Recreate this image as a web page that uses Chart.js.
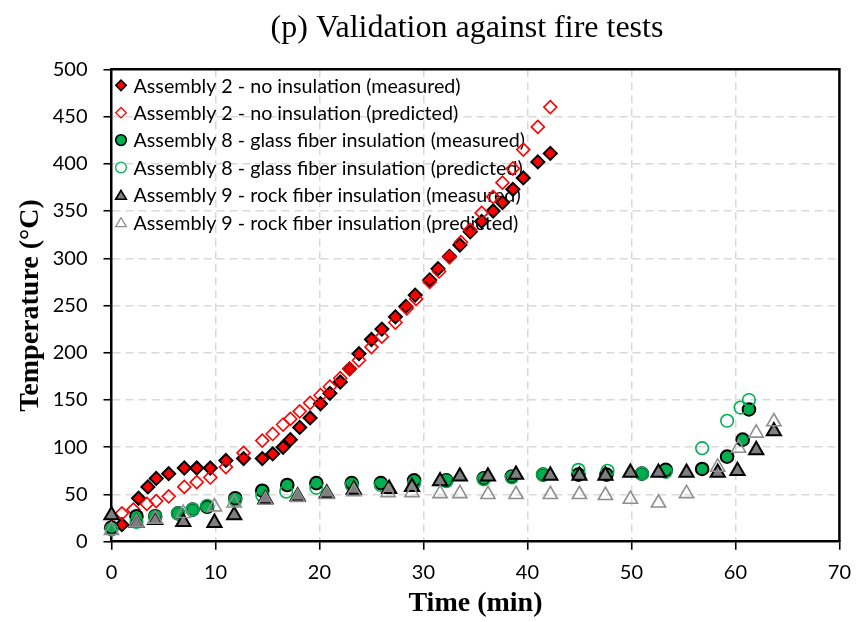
<!DOCTYPE html>
<html>
<head>
<meta charset="utf-8">
<script src="https://cdn.jsdelivr.net/npm/chart.js@4/dist/chart.umd.min.js"></script>
<style>
  html, body { margin: 0; padding: 0; background: #ffffff; }
  #wrap { width: 862px; height: 622px; }
</style>
</head>
<body>
<div id="wrap"><canvas id="chart" width="862" height="622"></canvas></div>
<script>
// ---- Data: time (min) and temperature (°C) for each assembly ----
const chartTitle = '(p) Validation against fire tests';
const xAxisTitle = 'Time (min)';
const yAxisTitle = 'Temperature (°C)';
const xTicks = [0, 10, 20, 30, 40, 50, 60, 70];
const yTicks = [0, 50, 100, 150, 200, 250, 300, 350, 400, 450, 500];

const seriesLabels = [
  'Assembly 2 - no insulation (measured)',
  'Assembly 2 - no insulation (predicted)',
  'Assembly 8 - glass fiber insulation (measured)',
  'Assembly 8 - glass fiber insulation (predicted)',
  'Assembly 9 - rock fiber insulation (measured)',
  'Assembly 9 - rock fiber insulation (predicted)'
];

const a2MeasuredTime = [0, 1.0, 2.6, 3.5, 4.3, 5.5, 7.0, 8.2, 9.5, 11.0, 12.7, 14.5, 15.5, 16.5, 17.2, 18.1, 19.1, 20.1, 21.0, 22.0, 22.9, 23.8, 25.0, 26.0, 27.3, 28.3, 29.2, 30.6, 31.4, 32.5, 33.5, 34.5, 35.6, 36.7, 37.6, 38.6, 39.6, 41.0, 42.2];
const a2MeasuredTemp = [14, 18, 46, 58, 67, 72, 78, 78, 78, 86, 88, 88, 93, 100, 108, 121, 131, 146, 157, 169, 183, 199, 214, 225, 238, 249, 261, 277, 289, 302, 314, 328, 339, 350, 359, 373, 385, 402, 411];

const a2PredictedTime = [0, 1.0, 2.1, 3.4, 4.3, 5.5, 7.0, 8.2, 9.5, 11.0, 12.7, 14.5, 15.5, 16.5, 17.2, 18.1, 19.1, 20.1, 21.0, 22.0, 22.9, 23.8, 25.0, 26.0, 27.3, 28.4, 29.3, 30.6, 31.5, 32.5, 33.6, 34.5, 35.6, 36.7, 37.6, 38.6, 39.6, 41.0, 42.2];
const a2PredictedTemp = [16, 30, 34, 40, 43, 48, 58, 63, 68, 79, 94, 107, 114, 124, 130, 138, 147, 155, 164, 173, 183, 192, 206, 217, 232, 247, 257, 275, 286, 301, 317, 330, 348, 365, 380, 395, 415, 439, 460];

const a8MeasuredTime = [0, 2.4, 4.2, 6.4, 7.8, 9.2, 11.9, 14.5, 16.9, 19.7, 23.1, 25.9, 29.1, 32.2, 35.8, 38.5, 41.5, 44.9, 47.6, 51.0, 53.3, 56.8, 59.2, 60.7, 61.3];
const a8MeasuredTemp = [15, 27, 27, 30, 34, 37, 46, 54, 60, 62, 62, 62, 65, 65, 67, 69, 71, 71, 71, 72, 76, 77, 90, 108, 140];

const a8PredictedTime = [0, 2.4, 4.2, 6.4, 7.8, 9.2, 11.9, 14.5, 16.8, 19.7, 23.1, 25.9, 29.1, 32.2, 35.8, 38.5, 41.5, 44.9, 47.7, 51.0, 53.3, 56.8, 59.2, 60.5, 61.3];
const a8PredictedTemp = [13, 21, 26, 30, 34, 38, 44, 49, 53, 57, 60, 60, 62, 64, 66, 68, 71, 76, 75, 72, 74, 99, 128, 142, 150];

const a9MeasuredTime = [0, 2.4, 4.2, 6.9, 9.9, 11.8, 14.8, 17.9, 20.7, 23.3, 26.7, 28.9, 31.6, 33.5, 36.2, 38.9, 42.2, 45.0, 47.5, 49.9, 52.6, 55.3, 58.3, 60.2, 62.0, 63.7];
const a9MeasuredTemp = [28, 20, 23, 21, 20, 28, 45, 48, 51, 55, 56, 58, 64, 69, 69, 71, 70, 70, 70, 73, 73, 73, 73, 75, 97, 117];

const a9PredictedTime = [0, 2.4, 4.2, 6.9, 9.9, 11.8, 14.8, 17.9, 20.7, 23.3, 26.6, 28.9, 31.6, 33.5, 36.2, 38.9, 42.2, 45.0, 47.5, 49.9, 52.6, 55.3, 58.3, 60.3, 62.0, 63.7];
const a9PredictedTemp = [12, 20, 24, 30, 37, 41, 44, 47, 50, 53, 52, 52, 51, 51, 50, 50, 50, 50, 49, 45, 41, 51, 79, 99, 115, 127];

// ---- Styling ----
const RED = '#ff0000';
const GREEN = '#00b050';
const DARK_GREY = '#7f7f7f';
const LIGHT_GREY = '#8f8f8f';
const NONE = 'rgba(0,0,0,0)';
const tickFont = { family: 'Lato', size: 20 };
const legendFont = '19.7px Lato';

function points(xs, ys) {
  return xs.map((x, i) => ({ x: x, y: ys[i] }));
}

const seriesStyles = [
  { pointStyle: 'rectRot', radius: 6.5, fill: RED, stroke: '#000000', width: 2 },
  { pointStyle: 'rectRot', radius: 6.5, fill: NONE, stroke: RED, width: 1.6 },
  { pointStyle: 'circle', radius: 6.3, fill: GREEN, stroke: '#000000', width: 2 },
  { pointStyle: 'circle', radius: 6.3, fill: NONE, stroke: GREEN, width: 1.6 },
  { pointStyle: 'triangle', radius: 8.2, fill: DARK_GREY, stroke: '#000000', width: 2 },
  { pointStyle: 'triangle', radius: 8.2, fill: NONE, stroke: LIGHT_GREY, width: 1.6 }
];

const seriesData = [
  points(a2MeasuredTime, a2MeasuredTemp),
  points(a2PredictedTime, a2PredictedTemp),
  points(a8MeasuredTime, a8MeasuredTemp),
  points(a8PredictedTime, a8PredictedTemp),
  points(a9MeasuredTime, a9MeasuredTemp),
  points(a9PredictedTime, a9PredictedTemp)
];

const datasets = seriesLabels.map((label, i) => ({
  label: label,
  data: seriesData[i],
  showLine: false,
  clip: false,
  order: seriesLabels.length - 1 - i,   // later series are painted on top
  pointStyle: seriesStyles[i].pointStyle,
  pointRadius: seriesStyles[i].radius,
  pointHoverRadius: seriesStyles[i].radius,
  pointBackgroundColor: seriesStyles[i].fill,
  pointBorderColor: seriesStyles[i].stroke,
  pointBorderWidth: seriesStyles[i].width
}));

// Marker shapes for the in-plot legend
function drawMarker(ctx, style, x, y, r, fill, stroke, lw) {
  ctx.beginPath();
  if (style === 'circle') {
    ctx.arc(x, y, r, 0, Math.PI * 2);
  } else if (style === 'rectRot') {
    ctx.moveTo(x - r, y); ctx.lineTo(x, y - r); ctx.lineTo(x + r, y); ctx.lineTo(x, y + r);
    ctx.closePath();
  } else {
    const h = r * 0.75;
    ctx.moveTo(x, y - h); ctx.lineTo(x + r * 0.87, y + h * 0.95); ctx.lineTo(x - r * 0.87, y + h * 0.95);
    ctx.closePath();
  }
  ctx.fillStyle = fill; ctx.fill();
  ctx.lineWidth = lw; ctx.strokeStyle = stroke; ctx.stroke();
}

// Plot frame plus legend inside the plot area, under the markers
const framePlugin = {
  id: 'frameAndLegend',
  beforeDatasetsDraw(chart) {
    const { ctx, chartArea: a } = chart;
    ctx.save();
    ctx.strokeStyle = '#000000';
    ctx.lineWidth = 2.5;
    ctx.beginPath();
    ctx.moveTo(a.left, a.top); ctx.lineTo(a.right, a.top); ctx.lineTo(a.right, a.bottom);
    ctx.stroke();

    const legendMarkerScale = [0.8, 0.8, 0.85, 0.85, 0.75, 0.75];
    ctx.font = legendFont;
    ctx.textBaseline = 'middle';
    ctx.textAlign = 'left';
    chart.data.datasets.forEach((ds, i) => {
      const y = a.top + 16 + i * 27.4;
      const st = seriesStyles[i];
      drawMarker(ctx, st.pointStyle, a.left + 9.5, y, st.radius * legendMarkerScale[i], st.fill, st.stroke, st.width * 0.8);
      ctx.fillStyle = '#000000';
      ctx.fillText(ds.label, a.left + 22, y + 1);
    });
    ctx.restore();
  },
  afterDraw(chart) {
    const { ctx } = chart;
    ctx.save();
    ctx.font = '32px "Liberation Serif"';
    ctx.fillStyle = '#000000';
    ctx.textAlign = 'center';
    ctx.textBaseline = 'middle';
    ctx.fillText(chartTitle, 467, 29);
    ctx.restore();
  }
};

const edgeAware = (max) => (c) => (c.tick && (c.tick.value === 0 || c.tick.value === max)) ? NONE : '#d9d9d9';

new Chart(document.getElementById('chart'), {
  type: 'scatter',
  data: { datasets: datasets },
  options: {
    responsive: false,
    animation: false,
    events: [],
    devicePixelRatio: 1,
    layout: { padding: { left: 0, right: 22.3, top: 69.3, bottom: 0 } },
    plugins: { legend: { display: false }, tooltip: { enabled: false }, title: { display: false } },
    scales: {
      x: {
        type: 'linear',
        min: xTicks[0],
        max: xTicks[xTicks.length - 1],
        afterBuildTicks: (s) => { s.ticks = xTicks.map(v => ({ value: v })); },
        afterFit: (s) => { s.height = 80.3; },
        ticks: { font: tickFont, color: '#000000', padding: 11 },
        grid: { color: edgeAware(70), lineWidth: 1.5, tickColor: '#000000', tickLength: 8, tickWidth: 1.6, tickBorderDash: [] },
        border: { display: true, color: '#000000', width: 2.5, dash: [8, 5] },
        title: { display: true, text: xAxisTitle, color: '#000000', font: { family: 'Liberation Serif', size: 28, weight: 'bold' }, padding: { top: 0, bottom: 1 } }
      },
      y: {
        type: 'linear',
        min: yTicks[0],
        max: yTicks[yTicks.length - 1],
        afterBuildTicks: (s) => { s.ticks = yTicks.map(v => ({ value: v })); },
        afterFit: (s) => { s.width = 111.5; },
        ticks: { font: tickFont, color: '#000000', padding: 16 },
        grid: { color: edgeAware(500), lineWidth: 1.5, tickColor: '#000000', tickLength: 8, tickWidth: 1.6, tickBorderDash: [] },
        border: { display: true, color: '#000000', width: 2.5, dash: [8, 5] },
        title: { display: true, text: yAxisTitle, color: '#000000', font: { family: 'Liberation Serif', size: 28, weight: 'bold' }, padding: { top: 14, bottom: 0 } }
      }
    }
  },
  plugins: [framePlugin]
});
</script>
</body>
</html>
